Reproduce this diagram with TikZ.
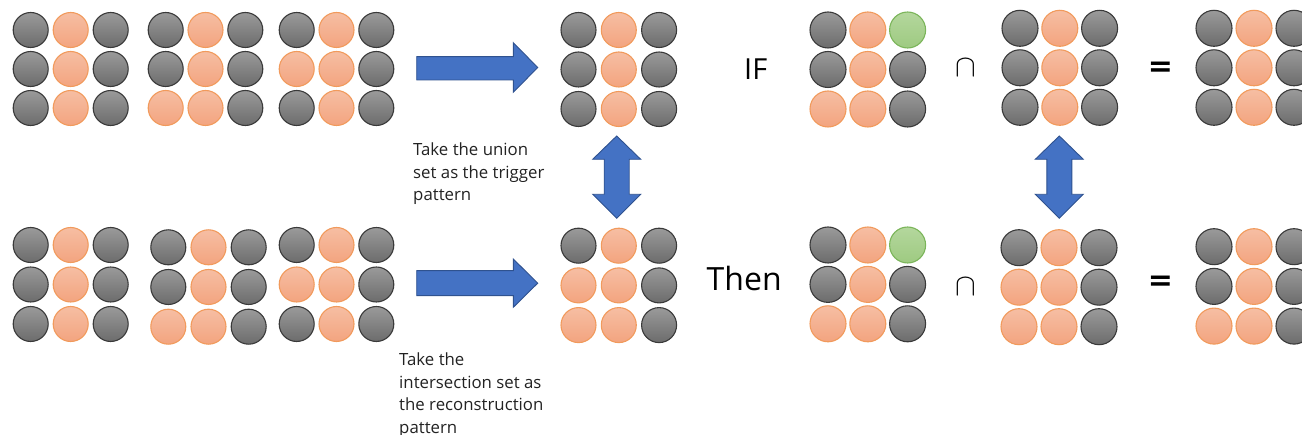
\RequirePackage{fix-cm}
\documentclass[tikz,border=0pt]{standalone}
\usepackage{fontspec}
\setmainfont{Open Sans}
\newfontfamily\symfont{DejaVu Sans}
\definecolor{gtop}{HTML}{9A9A9A}
\definecolor{gbot}{HTML}{6C6C6C}
\definecolor{gedge}{HTML}{3A3A3A}
\definecolor{otop}{HTML}{F6BEA3}
\definecolor{obot}{HTML}{F3A47F}
\definecolor{oedge}{HTML}{F19A5C}
\definecolor{ntop}{HTML}{B4D79D}
\definecolor{nbot}{HTML}{9ECA81}
\definecolor{nedge}{HTML}{7BB55A}
\definecolor{afill}{HTML}{4472C4}
\definecolor{aedge}{HTML}{2F528F}
\definecolor{txt}{HTML}{222222}
\tikzset{
  ball/.style={circle, inner sep=0pt, minimum size=35pt, line width=1.1pt},
  gb/.style={ball, draw=gedge, top color=gtop, bottom color=gbot},
  ob/.style={ball, draw=oedge, top color=otop, bottom color=obot},
  nb/.style={ball, draw=nedge, top color=ntop, bottom color=nbot},
  blockarrow/.style={fill=afill, draw=aedge, line width=0.9pt, line join=miter},
  note/.style={font=\fontsize{16.8}{22.5}\selectfont, align=left, inner sep=0pt, text=txt},
  bigword/.style={inner sep=0pt, text=black},
  setop/.style={inner sep=0pt, text=black, font=\fontsize{31}{31}\selectfont},
  eqop/.style={inner sep=0pt, text=black, font=\symfont\bfseries\fontsize{30}{30}\selectfont},
}
\newcommand\ballgrid[6]{%
  \foreach \st [count=\k from 0] in {#6}{%
    \pgfmathtruncatemacro\cc{mod(\k,3)}%
    \pgfmathtruncatemacro\rr{div(\k,3)}%
    \node[\st] (#1-\k) at ({#2+\cc*#3},{#4+\rr*#5}) {};
  }}
\begin{document}
\begin{tikzpicture}[x=1pt,y=-1pt]
\useasboundingbox (0,0) rectangle (1302,435);
\clip (0,0) rectangle (1302,435);
% left top
\ballgrid{a1}{30.7}{40}{30}{39}{gb,ob,gb,gb,ob,gb,gb,ob,gb}
\ballgrid{a2}{165.7}{39.8}{30}{39}{gb,ob,gb,gb,ob,gb,ob,ob,gb}
\ballgrid{a3}{296.7}{39.8}{30}{39}{gb,ob,gb,ob,ob,gb,gb,ob,gb}
\ballgrid{m1}{578.5}{40.3}{30}{39.5}{gb,ob,gb,gb,ob,gb,gb,ob,gb}
% left bottom
\ballgrid{b1}{30.7}{40}{245}{39.5}{gb,ob,gb,gb,ob,gb,gb,ob,gb}
\ballgrid{b2}{168.3}{40.2}{247.3}{39.7}{gb,ob,gb,gb,ob,gb,ob,ob,gb}
\ballgrid{b3}{296.7}{39.8}{245}{39.5}{gb,ob,gb,ob,ob,gb,gb,ob,gb}
\ballgrid{m2}{578.5}{40.3}{245.7}{39.7}{gb,ob,gb,ob,ob,gb,ob,ob,gb}
% right
\begin{scope}[ball/.append style={minimum size=36pt}]
\ballgrid{r1}{828}{39.8}{30}{39.5}{gb,ob,nb,gb,ob,gb,ob,ob,gb}
\ballgrid{r2}{1020}{39.8}{28.3}{39.5}{gb,ob,gb,gb,ob,gb,gb,ob,gb}
\ballgrid{r3}{1214}{40}{28.3}{39.5}{gb,ob,gb,gb,ob,gb,gb,ob,gb}
\ballgrid{r4}{828}{39.8}{245}{39.4}{gb,ob,nb,gb,ob,gb,ob,ob,gb}
\ballgrid{r5}{1019}{40}{247.7}{39.5}{gb,ob,gb,ob,ob,gb,ob,ob,gb}
\ballgrid{r6}{1214}{40}{246.7}{39.7}{gb,ob,gb,gb,ob,gb,ob,ob,gb}
\end{scope}
% block arrows
\draw[blockarrow] (416.7,56.7) -- (513.3,56.7) -- (513.3,42.7) -- (537.7,67.5)
  -- (513.3,92.3) -- (513.3,80) -- (416.7,80) -- cycle;
\draw[blockarrow] (416.7,270.7) -- (513.3,270.7) -- (513.3,259) -- (537.7,283.2)
  -- (513.3,307.3) -- (513.3,295.7) -- (416.7,295.7) -- cycle;
\foreach \cx in {616.7,1059.3}{
\draw[blockarrow] (\cx,136) -- ({\cx+24},159.3) -- ({\cx+12.5},159.3) -- ({\cx+12.5},194.3)
  -- ({\cx+24},194.3) -- (\cx,218.3) -- ({\cx-24},194.3) -- ({\cx-12.5},194.3)
  -- ({\cx-12.5},159.3) -- ({\cx-24},159.3) -- cycle;
}
% texts
\node[note, anchor=north west] (union) at (413,143) {Take the union\\set as the trigger\\pattern};
\node[note, anchor=north west] (inter) at (399,353) {Take the\\intersection set as\\the reconstruction\\pattern};
\node[bigword, font=\fontsize{29}{29}\selectfont, anchor=base west] (ifw) at (744,80) {IF};
\node[bigword, font=\fontsize{32}{32}\selectfont, anchor=base west] (thenw) at (706.5,290.7) {Then};
\node[setop] (cap1) at (965.5,68) {$\cap$};
\node[setop] (cap2) at (965.5,287) {$\cap$};
\node[eqop] (eq1) at (1160.5,69) {=};
\node[eqop] (eq2) at (1160.5,283.7) {=};
\end{tikzpicture}
\end{document}
